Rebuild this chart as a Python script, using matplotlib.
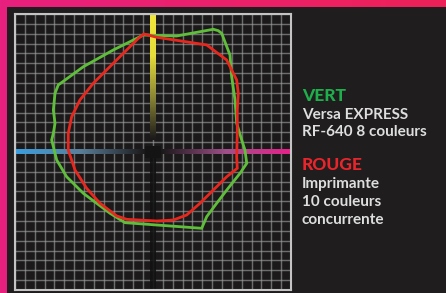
import numpy as np
import matplotlib
matplotlib.use("Agg")
import matplotlib.pyplot as plt
from matplotlib.colors import LinearSegmentedColormap
from matplotlib.patches import Rectangle

# gamut outlines (a*, b*)
vert_a = [-9.8, 24, 61.2, 66.2, 69.7, 78.1, 79.8, 83.2, 84.9, 90, 93.3, 95.1, 88.3,
          74.8, 64.6, 54.5, 49.4, -28.4, -43.6, -70.7, -87.6, -97.7, -102.8, -101.1,
          -99.4, -101.1, -99.4, -96.1, -70.7, -40.3, -16.5]
vert_b = [118.7, 117.7, 124.5, 123.1, 120.4, 98.4, 76.4, 52.8, 29.1, 12.2, 2, -11.5, -21.6,
          -38.6, -52, -65.6, -77.4, -71.7, -62.2, -41.9, -25.1, -8.1, 12.2, 19,
          29.1, 42.6, 59.6, 68, 86.5, 103.5, 115.3]

rouge_a = [-9.1, 3.8, 54.5, 74.8, 79.8, 84.9, 86.5, 85.5, 85.5, 84.9, 85.5, 74.8, 61.2,
           47.7, 34.2, 20.6, 3.8, -26.7, -36.8, -53.8, -67.3, -79.1, -86, -86, -82.5,
           -74.1, -60.6, -40.3, -26.7, -14.9]
rouge_b = [119.7, 116.4, 108.6, 93.3, 83.2, 73, 59.6, 42.6, 19, -4.8, -16.5, -25.1, -38.6,
           -52, -63.9, -69, -70, -68.3, -64.9, -52, -36.8, -18.3, 2, 19, 35.8,
           52.8, 69.7, 90, 103.5, 115.3]

legend_lines = [("VERT", "#1fae4c", True), ("Versa EXPRESS", "#dedede", False),
                ("RF-640 8 couleurs", "#dedede", False), ("ROUGE", "#e8252b", True),
                ("Imprimante", "#dedede", False), ("10 couleurs", "#dedede", False),
                ("concurrente", "#dedede", False)]
legend_y = [96, 115, 132, 165, 184, 202, 220]

W, H = 446, 293
fig = plt.figure(figsize=(W / 100, H / 100), dpi=100)

# pink frame + dark panel
bg = fig.add_axes([0, 0, 1, 1])
bg.set_xlim(0, W)
bg.set_ylim(H, 0)
bg.axis("off")
pink = LinearSegmentedColormap.from_list("pink", ["#e8207e", "#ef2158"])
bg.imshow(np.linspace(0, 1, 200).reshape(1, -1), cmap=pink, extent=[0, W, H, 0], aspect="auto")
bg.add_patch(Rectangle((7, 7), W, H, color="#1f1d1e", lw=0))

for (txt, col, bold), y in zip(legend_lines, legend_y):
    bg.text(302, y, txt, color=col, fontsize=12.5 if bold else 11, family="Lato",
            fontweight="black" if bold else "bold", va="center", ha="left")

# chart
ax = fig.add_axes([15 / W, 1 - 290 / H, 276 / W, 276 / H])
ax.set_facecolor("#1b191a")
ax.set_xlim(-140, 140)
ax.set_ylim(-140, 140)
ticks = np.arange(-140, 141, 10)
for t in ticks:
    ax.axvline(t, color="#9a9a9a", lw=1.8, alpha=0.2)
    ax.axvline(t, color="#a0a0a0", lw=0.6, alpha=0.65)
    ax.axhline(t, color="#9a9a9a", lw=1.8, alpha=0.2)
    ax.axhline(t, color="#a0a0a0", lw=0.6, alpha=0.65)
ax.set_xticks([])
ax.set_yticks([])
for s in ax.spines.values():
    s.set_color("#c4c4c4")
    s.set_linewidth(1.5)

# coloured axes fading to the centre
dark = "#1b191a"
ax.imshow(np.linspace(0, 1, 100).reshape(-1, 1),
          cmap=LinearSegmentedColormap.from_list("y", [dark, "#8a8535", "#e6dc3a", "#f0e63a"]),
          extent=[-3, 3, 12, 140], origin="lower", aspect="auto", zorder=2)
ax.imshow(np.linspace(0, 1, 100).reshape(1, -1),
          cmap=LinearSegmentedColormap.from_list("b", ["#3a9ee0", "#5a7f99", dark]),
          extent=[-140, -8, -2.5, 2.5], aspect="auto", zorder=2)
ax.imshow(np.linspace(0, 1, 100).reshape(1, -1),
          cmap=LinearSegmentedColormap.from_list("m", [dark, "#a0508a", "#e8208a"]),
          extent=[8, 140, -2.5, 2.5], aspect="auto", zorder=2)
ax.add_patch(Rectangle((-3, -140), 6, 142, color="#131212", lw=0, alpha=0.9, zorder=2))
ax.add_patch(Rectangle((-8, -6), 16, 12, color="#151414", lw=0, zorder=2))

ax.fill(vert_a, vert_b, fill=False, edgecolor="#5fbf3a", lw=2, zorder=4)
ax.fill(rouge_a, rouge_b, fill=False, edgecolor="#e8281e", lw=2, zorder=5)

fig.savefig("out.png", dpi=100)
